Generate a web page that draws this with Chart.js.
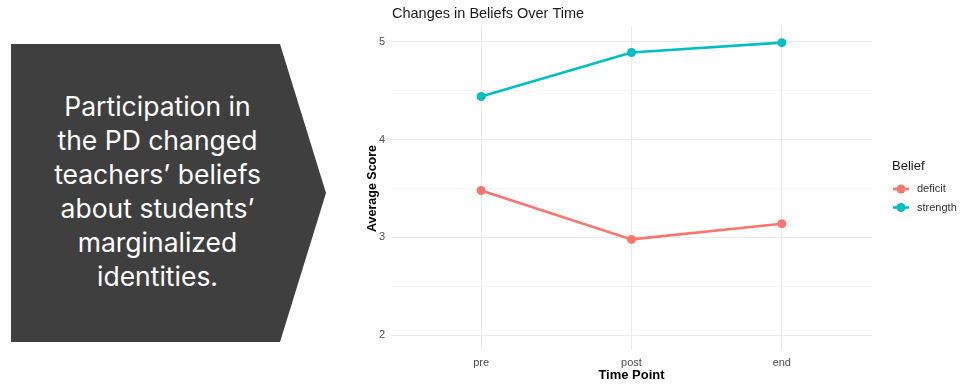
<!DOCTYPE html>
<html>
<head>
<meta charset="utf-8">
<script src="https://cdn.jsdelivr.net/npm/chart.js@4/dist/chart.umd.min.js"></script>
<style>
    html, body {
        margin: 0;
        padding: 0;
        background: #ffffff;
    }
    body {
        width: 974px;
        height: 391px;
        position: relative;
        overflow: hidden;
    }
    .arrow {
        position: absolute;
        left: 11px;
        top: 44px;
        width: 315px;
        height: 298px;
        background: #3f3f3f;
        clip-path: polygon(0 0, 269px 0, 100% 50%, 269px 100%, 0 100%);
    }
    .arrow-text {
        position: absolute;
        left: 37px;
        top: 89px;
        width: 241px;
        text-align: center;
        color: #ffffff;
        font-family: Inter, 'Noto Sans', sans-serif;
        font-size: 26.5px;
        line-height: 34px;
        white-space: nowrap;
    }
    .chart-box {
        position: absolute;
        left: 340px;
        top: 0;
        width: 634px;
        height: 391px;
    }
</style>
</head>
<body>
<div class="arrow"></div>
<div class="arrow-text">Participation in<br>the PD changed<br>teachers’ beliefs<br>about students’<br>marginalized<br>identities.</div>
<div class="chart-box"><canvas id="canvas" width="634" height="391"></canvas></div>
<script>
const categories = ['pre', 'post', 'end'];
const seriesNames = ['deficit', 'strength'];
const deficitValues = [3.48, 2.98, 3.14];
const strengthValues = [4.44, 4.89, 4.99];
const yTicks = [2, 2.5, 3, 3.5, 4, 4.5, 5];

const chartColors = {
    deficit: '#F8766D',
    strength: '#00BFC4',
};
const fontFamily = "'Liberation Sans', Arial, sans-serif";

function toPoints(values) {
    return values.map((value, index) => ({x: index, y: value}));
}

function makeDataset(label, values) {
    return {
        label: label,
        data: toPoints(values),
        borderColor: chartColors[label],
        backgroundColor: chartColors[label],
        borderWidth: 2.6,
        pointRadius: 4.5,
        pointHoverRadius: 4.5,
        pointBorderWidth: 0,
        tension: 0,
    };
}

// title drawn at the left edge of the panel, like ggplot does
const titlePlugin = {
    id: 'panelTitle',
    afterDraw(chart) {
        const ctx = chart.ctx;
        ctx.save();
        ctx.fillStyle = '#1a1a1a';
        ctx.font = '14.5px ' + fontFamily;
        ctx.textAlign = 'left';
        ctx.textBaseline = 'middle';
        ctx.fillText('Changes in Beliefs Over Time', chart.chartArea.left + 1, 14);
        ctx.restore();
    }
};

// legend on the right with line + point keys
const legendPlugin = {
    id: 'sideLegend',
    afterDraw(chart) {
        const ctx = chart.ctx;
        const left = chart.chartArea.right + 20;
        ctx.save();
        ctx.fillStyle = '#1a1a1a';
        ctx.font = '13px ' + fontFamily;
        ctx.textAlign = 'left';
        ctx.textBaseline = 'middle';
        ctx.fillText('Belief', left, 166);

        chart.data.datasets.forEach((dataset, index) => {
            const y = 189 + index * 18.5;
            ctx.strokeStyle = dataset.borderColor;
            ctx.lineWidth = 2.6;
            ctx.beginPath();
            ctx.moveTo(left + 1, y);
            ctx.lineTo(left + 17, y);
            ctx.stroke();
            ctx.fillStyle = dataset.borderColor;
            ctx.beginPath();
            ctx.arc(left + 9, y, 4.5, 0, Math.PI * 2);
            ctx.fill();
            ctx.fillStyle = '#333333';
            ctx.font = '11px ' + fontFamily;
            ctx.fillText(dataset.label, left + 25, y);
        });
        ctx.restore();
    }
};

const ctx = document.getElementById('canvas');
const chartConfig = {
    type: 'line',
    data: {
        datasets: [
            makeDataset(seriesNames[0], deficitValues),
            makeDataset(seriesNames[1], strengthValues),
        ],
    },
    options: {
        responsive: false,
        animation: false,
        layout: {
            padding: {top: 27, right: 102, bottom: 0, left: 0},
        },
        plugins: {
            legend: {display: false},
            title: {display: false},
            tooltip: {enabled: false},
        },
        scales: {
            x: {
                type: 'linear',
                min: -0.6,
                max: 2.6,
                afterBuildTicks: function (scale) {
                    scale.ticks = categories.map((name, index) => ({value: index}));
                },
                afterFit: function (scale) {
                    scale.height = 41;
                },
                ticks: {
                    color: '#4D4D4D',
                    font: {family: fontFamily, size: 11},
                    padding: 6,
                    maxRotation: 0,
                    callback: function (value) {
                        return categories[value];
                    },
                },
                grid: {
                    color: '#EBEBEB',
                    lineWidth: 1.1,
                    drawTicks: false,
                },
                border: {display: false},
                title: {
                    display: true,
                    text: 'Time Point',
                    color: '#000000',
                    font: {family: fontFamily, size: 13, weight: 'bold'},
                    padding: {top: 0, bottom: 8},
                },
            },
            y: {
                type: 'linear',
                min: 1.85,
                max: 5.15,
                afterBuildTicks: function (scale) {
                    scale.ticks = yTicks.map(value => ({value: value}));
                },
                afterFit: function (scale) {
                    scale.width = 51;
                },
                ticks: {
                    color: '#4D4D4D',
                    font: {family: fontFamily, size: 11},
                    padding: 6,
                    callback: function (value) {
                        return Number.isInteger(value) ? value : '';
                    },
                },
                grid: {
                    color: function (context) {
                        return Number.isInteger(context.tick.value) ? '#EBEBEB' : '#F2F2F2';
                    },
                    lineWidth: function (context) {
                        return Number.isInteger(context.tick.value) ? 1.1 : 0.8;
                    },
                    drawTicks: false,
                },
                border: {display: false},
                title: {
                    display: true,
                    text: 'Average Score',
                    color: '#000000',
                    font: {family: fontFamily, size: 12.5, weight: 'bold'},
                    padding: {top: 25, bottom: 0},
                },
            },
        },
    },
    plugins: [titlePlugin, legendPlugin],
};

const chart = new Chart(ctx, chartConfig);
</script>
</body>
</html>
